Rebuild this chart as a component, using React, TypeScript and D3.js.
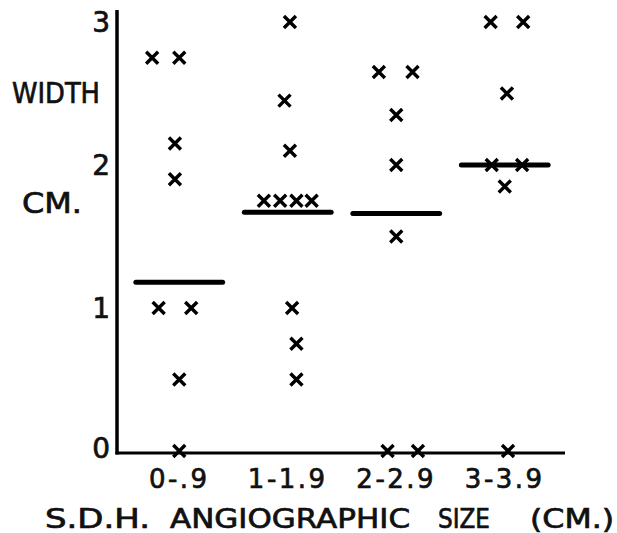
import * as d3 from 'd3';

// groups of S.D.H. angiographic size (cm)
const groups = ['0-.9', '1-1.9', '2-2.9', '3-3.9'];

// width (cm) per case; offset = sideways shift within the group (fraction of band step)
const widths0 = [2.75, 2.75, 2.15, 1.9, 1.0, 1.0, 0.5, 0];
const offsets0 = [-0.25, 0, -0.04, -0.04, -0.19, 0.11, 0, 0];
const widths1 = [3.0, 2.45, 2.1, 1.75, 1.75, 1.75, 1.75, 1.0, 0.75, 0.5];
const offsets1 = [0.02, -0.03, 0.02, -0.22, -0.07, 0.08, 0.22, 0.04, 0.08, 0.08];
const widths2 = [2.65, 2.65, 2.35, 2.0, 1.5, 0, 0];
const offsets2 = [-0.16, 0.15, 0, 0, 0, -0.08, 0.2];
const widths3 = [3.0, 3.0, 2.5, 2.0, 2.0, 1.85, 0];
const offsets3 = [-0.13, 0.17, 0.02, -0.12, 0.16, 0, 0.03];

const medians = [1.18, 1.67, 1.66, 2.0];
const yTicks = [0, 1, 2, 3];

const W = 617;
const H = 533;
const font = '"DejaVu Sans", sans-serif';
const ink = '#111';

// slight outline to get the heavier print weight
const textStyle = { fontFamily: font, fill: ink, stroke: ink, strokeWidth: 0.7 };

export default function App() {
  const x = d3.scaleBand().domain(groups).range([125, 559]);
  const y = d3.scaleLinear().domain([0, 3]).range([451, 22]);
  const axisX = 117;
  const axisY = 453;
  const step = x.step();

  const widthsByGroup = [widths0, widths1, widths2, widths3];
  const offsetsByGroup = [offsets0, offsets1, offsets2, offsets3];

  const points = groups.flatMap((g, gi) =>
    widthsByGroup[gi].map((v, i) => ({
      cx: (x(g) as number) + x.bandwidth() / 2 + offsetsByGroup[gi][i] * step,
      cy: y(v),
    }))
  );

  const s = 6;
  const cross = (cx: number, cy: number) =>
    `M${cx - s},${cy - s}L${cx + s},${cy + s}M${cx - s},${cy + s}L${cx + s},${cy - s}`;

  return (
    <svg
      width={W}
      height={H}
      viewBox={`0 0 ${W} ${H}`}
      style={{ position: 'absolute', left: 0, top: 0, background: '#fff' }}
    >
      {/* axes */}
      <line x1={axisX} y1={y(3) - 12} x2={axisX} y2={axisY + 1.5} stroke="#000" strokeWidth={3.5} />
      <line x1={axisX - 1.5} y1={axisY} x2={x.range()[1] + 6} y2={axisY} stroke="#000" strokeWidth={3} />

      {yTicks.map((t) => (
        <text key={t} x={110} y={y(t) + (t === 0 ? 7 : 10)} textAnchor="end" fontSize={28} {...textStyle}>
          {t}
        </text>
      ))}

      <text x={12} y={103} fontSize={28} textLength={88} lengthAdjust="spacingAndGlyphs" {...textStyle}>
        WIDTH
      </text>
      <text x={22} y={213} fontSize={28} textLength={60} lengthAdjust="spacingAndGlyphs" {...textStyle}>
        CM.
      </text>

      {groups.map((g) => (
        <text
          key={g}
          x={(x(g) as number) + x.bandwidth() / 2}
          y={488}
          textAnchor="middle"
          fontSize={26}
          letterSpacing={2.5}
          {...textStyle}
        >
          {g}
        </text>
      ))}

      <text fontSize={26} y={528} {...textStyle}>
        <tspan x={45} textLength={105} lengthAdjust="spacingAndGlyphs">S.D.H.</tspan>
        <tspan x={170} textLength={240} lengthAdjust="spacingAndGlyphs">ANGIOGRAPHIC</tspan>
        <tspan x={438} textLength={52} lengthAdjust="spacingAndGlyphs">SIZE</tspan>
        <tspan x={530} textLength={84} lengthAdjust="spacingAndGlyphs">(CM.)</tspan>
      </text>

      {/* median bars */}
      {groups.map((g, gi) => {
        const c = (x(g) as number) + x.bandwidth() / 2;
        const half = step * 0.4;
        return (
          <line
            key={g}
            x1={c - half}
            x2={c + half}
            y1={y(medians[gi])}
            y2={y(medians[gi])}
            stroke="#000"
            strokeWidth={5}
            strokeLinecap="round"
          />
        );
      })}

      {/* cases */}
      <path
        d={points.map((p) => cross(p.cx, p.cy)).join('')}
        stroke="#000"
        strokeWidth={3.4}
        fill="none"
      />
    </svg>
  );
}
